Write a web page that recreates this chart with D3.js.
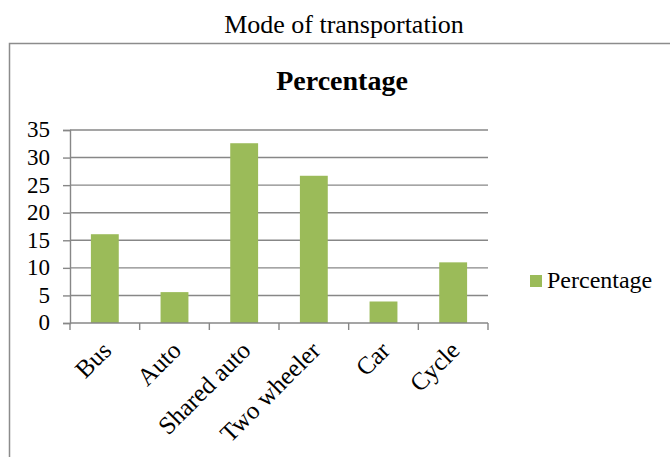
<!DOCTYPE html>
<html>
<head>
<meta charset="utf-8">
<script src="https://cdn.jsdelivr.net/npm/d3@7"></script>
<style>
  html, body { margin: 0; padding: 0; background: #fff; }
  svg text { font-family: "Liberation Serif", "Times New Roman", serif; }
</style>
</head>
<body>
<div id="chart"></div>
<script>
// data
const categories = ["Bus", "Auto", "Shared auto", "Two wheeler", "Car", "Cycle"];
const percentage = [16.1, 5.6, 32.6, 26.7, 3.9, 11.0];
const yTicks = [0, 5, 10, 15, 20, 25, 30, 35];
const seriesName = "Percentage";

const W = 670, H = 457;
const plot = { left: 70, right: 488, top: 130, bottom: 323 };
const barColor = "#9bbb59";
const gridColor = "#878787";
const SERIF = "Liberation Serif, Times New Roman, serif";

const svg = d3.select("#chart").append("svg")
  .attr("width", W).attr("height", H)
  .attr("font-family", SERIF);

// outer caption
svg.append("text")
  .attr("x", 344).attr("y", 33)
  .attr("text-anchor", "middle")
  .attr("font-family", SERIF)
  .attr("font-size", 26)
  .text("Mode of transportation");

// chart frame (runs off right and bottom edges)
svg.append("rect")
  .attr("x", 9.5).attr("y", 43.5)
  .attr("width", 700).attr("height", 500)
  .attr("fill", "none")
  .attr("stroke", "#8c8c8c")
  .attr("stroke-width", 1.5);

// chart title
svg.append("text")
  .attr("x", 342).attr("y", 90)
  .attr("text-anchor", "middle")
  .attr("font-family", SERIF)
  .attr("font-size", 28)
  .attr("font-weight", "bold")
  .text(seriesName);

const x = d3.scaleBand()
  .domain(categories)
  .range([plot.left, plot.right])
  .padding(0);

const y = d3.scaleLinear()
  .domain([0, 35])
  .range([plot.bottom, plot.top]);

// gridlines
svg.append("g")
  .selectAll("line")
  .data(yTicks.filter(d => d > 0))
  .join("line")
  .attr("x1", plot.left).attr("x2", plot.right)
  .attr("y1", d => y(d)).attr("y2", d => y(d))
  .attr("stroke", gridColor)
  .attr("stroke-width", 1.4);

// bars
const barW = x.bandwidth() * 0.4;
svg.append("g")
  .selectAll("rect")
  .data(percentage)
  .join("rect")
  .attr("x", (d, i) => x(categories[i]) + (x.bandwidth() - barW) / 2)
  .attr("y", d => y(d))
  .attr("width", barW)
  .attr("height", d => y(0) - y(d))
  .attr("fill", barColor);

// y axis
const yAxis = svg.append("g")
  .attr("transform", `translate(${plot.left},0)`)
  .call(d3.axisLeft(y).tickValues(yTicks).tickSize(7).tickPadding(13));
yAxis.attr("font-family", SERIF).attr("font-size", 23);
yAxis.select(".domain").attr("stroke", gridColor).attr("stroke-width", 1.4);
yAxis.selectAll(".tick line").attr("stroke", gridColor).attr("stroke-width", 1.4);
yAxis.selectAll(".tick text")
  .attr("font-family", SERIF)
  .attr("font-size", 23).attr("fill", "#000")
  .attr("dy", "0.3em");

// x axis with ticks at category boundaries
const xg = svg.append("g");
xg.append("line")
  .attr("x1", plot.left).attr("x2", plot.right)
  .attr("y1", y(0)).attr("y2", y(0))
  .attr("stroke", gridColor).attr("stroke-width", 1.4);
const boundaries = categories.map(c => x(c)).concat([x.range()[1]]);
xg.selectAll("line.tick")
  .data(boundaries)
  .join("line")
  .attr("class", "tick")
  .attr("x1", d => d).attr("x2", d => d)
  .attr("y1", y(0)).attr("y2", y(0) + 7)
  .attr("stroke", gridColor).attr("stroke-width", 1.4);

xg.selectAll("text")
  .data(categories)
  .join("text")
  .attr("text-anchor", "end")
  .attr("font-family", SERIF)
  .attr("font-size", 25)
  .attr("transform", d => `translate(${x(d) + x.bandwidth() / 2 + 8},${y(0) + 29}) rotate(-45)`)
  .text(d => d);

// legend
const lg = svg.append("g").attr("transform", "translate(530,275)");
lg.append("rect").attr("width", 12).attr("height", 12).attr("fill", barColor);
lg.append("text")
  .attr("x", 17).attr("y", 13)
  .attr("font-family", SERIF)
  .attr("font-size", 24)
  .text(seriesName);
</script>
</body>
</html>
